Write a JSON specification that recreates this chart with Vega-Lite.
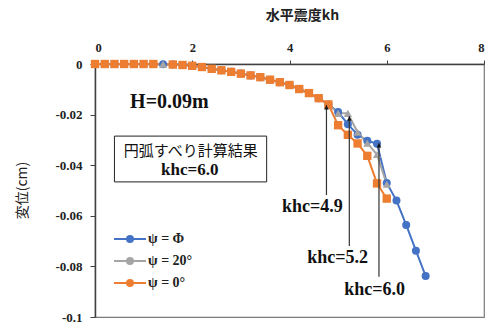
{
  "$schema": "https://vega.github.io/schema/vega-lite/v6.json",
  "width": 389,
  "height": 253,
  "autosize": "none",
  "padding": {"left": 95, "top": 64, "right": 7, "bottom": 7},
  "background": "white",
  "config": {
    "view": {"stroke": "#7a7a7a", "strokeWidth": 1.2},
    "axis": {"grid": false, "domainColor": "#404040", "domainWidth": 1.5, "tickColor": "#404040", "labelFont": "Liberation Serif, Times New Roman, serif", "labelFontWeight": "bold", "labelColor": "#222", "titleColor": "#222"}
  },
  "resolve": {"legend": {"color": "independent"}},
  "datasets": {
    "series": [
      {"kh": 0, "d": 0, "s": "ψ = Φ"}, {"kh": 0.2, "d": 0, "s": "ψ = Φ"}, {"kh": 0.4, "d": 0, "s": "ψ = Φ"}, {"kh": 0.6, "d": 0, "s": "ψ = Φ"}, {"kh": 0.8, "d": 0, "s": "ψ = Φ"}, {"kh": 1.0, "d": 0, "s": "ψ = Φ"}, {"kh": 1.2, "d": 0, "s": "ψ = Φ"}, {"kh": 1.4, "d": -0.0001, "s": "ψ = Φ"}, {"kh": 1.6, "d": -0.0002, "s": "ψ = Φ"}, {"kh": 1.8, "d": -0.0004, "s": "ψ = Φ"}, {"kh": 2.0, "d": -0.0007, "s": "ψ = Φ"}, {"kh": 2.2, "d": -0.0012, "s": "ψ = Φ"}, {"kh": 2.4, "d": -0.0019, "s": "ψ = Φ"}, {"kh": 2.6, "d": -0.0025, "s": "ψ = Φ"}, {"kh": 2.8, "d": -0.0031, "s": "ψ = Φ"}, {"kh": 3.0, "d": -0.0038, "s": "ψ = Φ"}, {"kh": 3.2, "d": -0.0045, "s": "ψ = Φ"}, {"kh": 3.4, "d": -0.0052, "s": "ψ = Φ"}, {"kh": 3.6, "d": -0.0062, "s": "ψ = Φ"}, {"kh": 3.8, "d": -0.0072, "s": "ψ = Φ"}, {"kh": 4.0, "d": -0.0083, "s": "ψ = Φ"}, {"kh": 4.2, "d": -0.0099, "s": "ψ = Φ"}, {"kh": 4.4, "d": -0.0115, "s": "ψ = Φ"}, {"kh": 4.6, "d": -0.0135, "s": "ψ = Φ"}, {"kh": 4.8, "d": -0.016, "s": "ψ = Φ"}, {"kh": 5.0, "d": -0.019, "s": "ψ = Φ"}, {"kh": 5.2, "d": -0.0238, "s": "ψ = Φ"}, {"kh": 5.4, "d": -0.028, "s": "ψ = Φ"}, {"kh": 5.6, "d": -0.0303, "s": "ψ = Φ"}, {"kh": 5.8, "d": -0.0315, "s": "ψ = Φ"}, {"kh": 6.0, "d": -0.047, "s": "ψ = Φ"}, {"kh": 6.2, "d": -0.054, "s": "ψ = Φ"}, {"kh": 6.4, "d": -0.0636, "s": "ψ = Φ"}, {"kh": 6.6, "d": -0.0738, "s": "ψ = Φ"}, {"kh": 6.8, "d": -0.0838, "s": "ψ = Φ"},
      {"kh": 0, "d": 0, "s": "ψ = 20°"}, {"kh": 0.2, "d": 0, "s": "ψ = 20°"}, {"kh": 0.4, "d": 0, "s": "ψ = 20°"}, {"kh": 0.6, "d": 0, "s": "ψ = 20°"}, {"kh": 0.8, "d": 0, "s": "ψ = 20°"}, {"kh": 1.0, "d": 0, "s": "ψ = 20°"}, {"kh": 1.2, "d": 0, "s": "ψ = 20°"}, {"kh": 1.4, "d": -0.0001, "s": "ψ = 20°"}, {"kh": 1.6, "d": -0.0002, "s": "ψ = 20°"}, {"kh": 1.8, "d": -0.0004, "s": "ψ = 20°"}, {"kh": 2.0, "d": -0.0007, "s": "ψ = 20°"}, {"kh": 2.2, "d": -0.0012, "s": "ψ = 20°"}, {"kh": 2.4, "d": -0.0019, "s": "ψ = 20°"}, {"kh": 2.6, "d": -0.0025, "s": "ψ = 20°"}, {"kh": 2.8, "d": -0.0031, "s": "ψ = 20°"}, {"kh": 3.0, "d": -0.0038, "s": "ψ = 20°"}, {"kh": 3.2, "d": -0.0045, "s": "ψ = 20°"}, {"kh": 3.4, "d": -0.0052, "s": "ψ = 20°"}, {"kh": 3.6, "d": -0.0062, "s": "ψ = 20°"}, {"kh": 3.8, "d": -0.0072, "s": "ψ = 20°"}, {"kh": 4.0, "d": -0.0083, "s": "ψ = 20°"}, {"kh": 4.2, "d": -0.0099, "s": "ψ = 20°"}, {"kh": 4.4, "d": -0.0115, "s": "ψ = 20°"}, {"kh": 4.6, "d": -0.0135, "s": "ψ = 20°"}, {"kh": 4.8, "d": -0.016, "s": "ψ = 20°"}, {"kh": 5.0, "d": -0.0195, "s": "ψ = 20°"}, {"kh": 5.2, "d": -0.0195, "s": "ψ = 20°"}, {"kh": 5.4, "d": -0.027, "s": "ψ = 20°"}, {"kh": 5.6, "d": -0.0313, "s": "ψ = 20°"}, {"kh": 5.8, "d": -0.0358, "s": "ψ = 20°"}, {"kh": 6.0, "d": -0.0475, "s": "ψ = 20°"},
      {"kh": 0, "d": 0, "s": "ψ = 0°"}, {"kh": 0.2, "d": 0, "s": "ψ = 0°"}, {"kh": 0.4, "d": 0, "s": "ψ = 0°"}, {"kh": 0.6, "d": 0, "s": "ψ = 0°"}, {"kh": 0.8, "d": 0, "s": "ψ = 0°"}, {"kh": 1.0, "d": 0, "s": "ψ = 0°"}, {"kh": 1.2, "d": 0, "s": "ψ = 0°"}, {"kh": 1.6, "d": -0.0002, "s": "ψ = 0°"}, {"kh": 1.8, "d": -0.0004, "s": "ψ = 0°"}, {"kh": 2.0, "d": -0.0007, "s": "ψ = 0°"}, {"kh": 2.2, "d": -0.0012, "s": "ψ = 0°"}, {"kh": 2.4, "d": -0.0019, "s": "ψ = 0°"}, {"kh": 2.6, "d": -0.0025, "s": "ψ = 0°"}, {"kh": 2.8, "d": -0.0031, "s": "ψ = 0°"}, {"kh": 3.0, "d": -0.0038, "s": "ψ = 0°"}, {"kh": 3.2, "d": -0.0045, "s": "ψ = 0°"}, {"kh": 3.4, "d": -0.0052, "s": "ψ = 0°"}, {"kh": 3.6, "d": -0.0062, "s": "ψ = 0°"}, {"kh": 3.8, "d": -0.0072, "s": "ψ = 0°"}, {"kh": 4.0, "d": -0.0083, "s": "ψ = 0°"}, {"kh": 4.2, "d": -0.0099, "s": "ψ = 0°"}, {"kh": 4.4, "d": -0.0115, "s": "ψ = 0°"}, {"kh": 4.6, "d": -0.0135, "s": "ψ = 0°"}, {"kh": 4.8, "d": -0.016, "s": "ψ = 0°"}, {"kh": 5.0, "d": -0.0242, "s": "ψ = 0°"}, {"kh": 5.2, "d": -0.028, "s": "ψ = 0°"}, {"kh": 5.4, "d": -0.0314, "s": "ψ = 0°"}, {"kh": 5.6, "d": -0.0363, "s": "ψ = 0°"}, {"kh": 5.8, "d": -0.0472, "s": "ψ = 0°"}, {"kh": 6.0, "d": -0.0532, "s": "ψ = 0°"}
    ],
    "arrows": [
      {"x": 4.76, "top": -0.0162, "bottom": -0.0518, "head": -0.0172},
      {"x": 5.23, "top": -0.0206, "bottom": -0.0719, "head": -0.0216},
      {"x": 5.84, "top": -0.0312, "bottom": -0.0841, "head": -0.0322}
    ],
    "labels": [
      {"t": "khc=4.9", "x": 4.47, "y": -0.0564},
      {"t": "khc=5.2", "x": 4.99, "y": -0.0768},
      {"t": "khc=6.0", "x": 5.75, "y": -0.0893}
    ],
    "boxlabel": [{"t": "khc=6.0", "x": 1.95, "y": -0.0419}],
    "box": [{"x": 0.4, "x2": 3.53, "y": -0.0285, "y2": -0.0466}],
    "heading": [{"t": "H=0.09m", "x": 1.53, "y": -0.0149}],
    "boxtitle": [{"t": "円弧すべり計算結果", "x": 1.97, "y": -0.0344}]
  },
  "layer": [
    {
      "data": {"name": "series"},
      "mark": {"type": "line", "strokeWidth": 2},
      "encoding": {
        "x": {"field": "kh", "type": "quantitative", "scale": {"domain": [0, 8], "nice": false},
          "axis": {"orient": "top", "values": [0, 2, 4, 6, 8], "title": "水平震度kh", "titleFont": "Noto Sans CJK JP", "titleFontSize": 14, "titleFontWeight": "bold", "titleX": 207, "titleY": -49, "titleBaseline": "middle", "labelFontSize": 12.5, "tickSize": 4, "labelPadding": 6}},
        "y": {"field": "d", "type": "quantitative", "scale": {"domain": [-0.1, 0], "nice": false},
          "axis": {"values": [0, -0.02, -0.04, -0.06, -0.08, -0.1], "labelExpr": "toString(datum.value)", "title": "変位(cm)", "titleFont": "Noto Sans CJK JP", "titleFontSize": 14, "titleFontWeight": "normal", "titleX": -73, "titleY": 126, "titleBaseline": "middle", "labelFontSize": 13, "tickSize": 5, "labelPadding": 8}},
        "color": {"field": "s", "type": "nominal", "scale": {"domain": ["ψ = Φ", "ψ = 20°", "ψ = 0°"], "range": ["#4472C4", "#A5A5A5", "#ED7D31"]},
          "legend": {"title": null, "orient": "none", "legendX": 28, "legendY": 168, "padding": 0, "symbolSize": 64, "symbolType": "M-4,0H4", "symbolStrokeWidth": 2, "symbolOffset": 0, "labelOffset": 11, "rowPadding": 8, "labelFont": "Liberation Serif, Times New Roman, serif", "labelFontWeight": "bold", "labelFontSize": 14, "labelOpacity": 0}},
        "detail": {"field": "s"}
      }
    },
    {
      "data": {"name": "series"},
      "mark": {"type": "point", "filled": true, "opacity": 1},
      "encoding": {
        "x": {"field": "kh", "type": "quantitative"},
        "y": {"field": "d", "type": "quantitative"},
        "color": {"field": "s", "type": "nominal",
          "legend": {"title": null, "orient": "none", "legendX": 28, "legendY": 168, "padding": 0, "symbolSize": 64, "symbolOffset": 0, "labelOffset": 11, "rowPadding": 8, "labelFont": "Liberation Serif, Times New Roman, serif", "labelFontWeight": "bold", "labelFontSize": 14, "labelColor": "#222"}},
        "shape": {"field": "s", "type": "nominal", "scale": {"domain": ["ψ = Φ", "ψ = 20°", "ψ = 0°"], "range": ["circle", "triangle-up", "square"]}, "legend": null},
        "size": {"field": "s", "type": "nominal", "scale": {"domain": ["ψ = Φ", "ψ = 20°", "ψ = 0°"], "range": [64, 70, 81]}, "legend": null}
      }
    },
    {
      "data": {"name": "box"},
      "mark": {"type": "rect", "fill": "white", "stroke": "#222", "strokeWidth": 1},
      "encoding": {"x": {"field": "x", "type": "quantitative"}, "x2": {"field": "x2"}, "y": {"field": "y", "type": "quantitative"}, "y2": {"field": "y2"}}
    },
    {
      "data": {"name": "arrows"},
      "mark": {"type": "rule", "color": "#333", "strokeWidth": 1.2},
      "encoding": {"x": {"field": "x", "type": "quantitative"}, "y": {"field": "top", "type": "quantitative"}, "y2": {"field": "bottom"}}
    },
    {
      "data": {"name": "arrows"},
      "mark": {"type": "point", "shape": "triangle-up", "filled": true, "color": "#111", "size": 22, "opacity": 1},
      "encoding": {"x": {"field": "x", "type": "quantitative"}, "y": {"field": "head", "type": "quantitative"}}
    },
    {
      "data": {"name": "labels"},
      "mark": {"type": "text", "font": "Liberation Serif, Times New Roman, serif", "fontWeight": "bold", "fontSize": 18, "color": "#111", "align": "center", "baseline": "middle"},
      "encoding": {"x": {"field": "x", "type": "quantitative"}, "y": {"field": "y", "type": "quantitative"}, "text": {"field": "t"}}
    },
    {
      "data": {"name": "boxlabel"},
      "mark": {"type": "text", "font": "Liberation Serif, Times New Roman, serif", "fontWeight": "bold", "fontSize": 17, "color": "#111", "align": "center", "baseline": "middle"},
      "encoding": {"x": {"field": "x", "type": "quantitative"}, "y": {"field": "y", "type": "quantitative"}, "text": {"field": "t"}}
    },
    {
      "data": {"name": "heading"},
      "mark": {"type": "text", "font": "Liberation Serif, Times New Roman, serif", "fontWeight": "bold", "fontSize": 20, "color": "#111", "align": "center", "baseline": "middle"},
      "encoding": {"x": {"field": "x", "type": "quantitative"}, "y": {"field": "y", "type": "quantitative"}, "text": {"field": "t"}}
    },
    {
      "data": {"name": "boxtitle"},
      "mark": {"type": "text", "font": "Noto Sans CJK JP", "fontSize": 15, "color": "#111", "align": "center", "baseline": "middle"},
      "encoding": {"x": {"field": "x", "type": "quantitative"}, "y": {"field": "y", "type": "quantitative"}, "text": {"field": "t"}}
    }
  ]
}
